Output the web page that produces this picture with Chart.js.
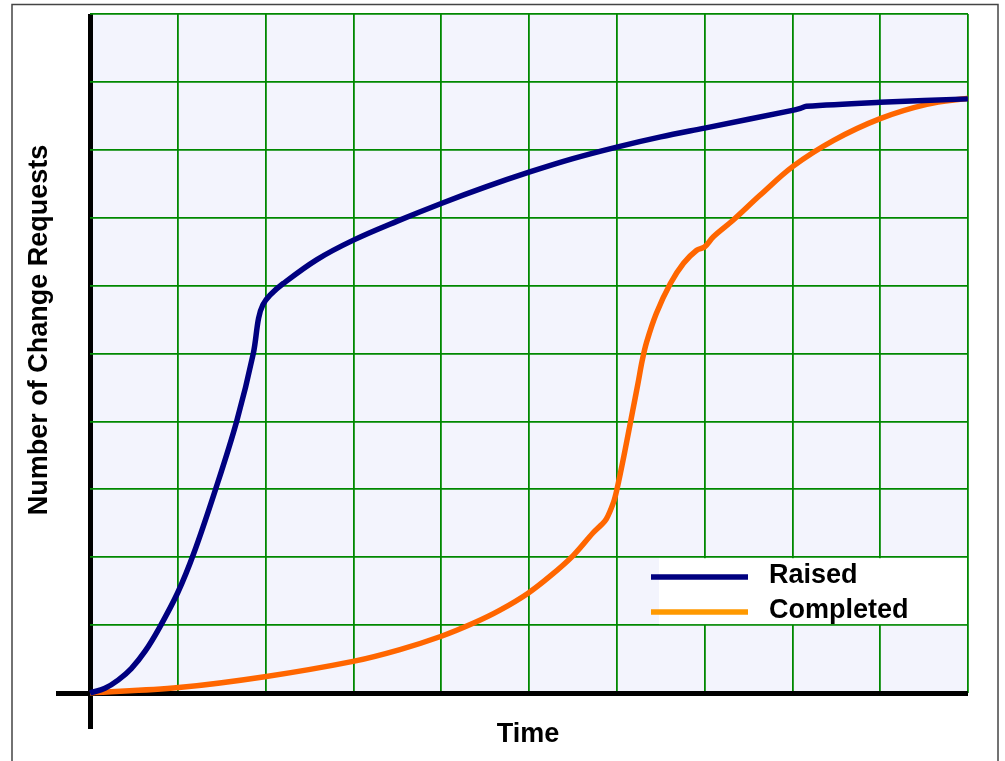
<!DOCTYPE html>
<html>
<head>
<meta charset="utf-8">
<script src="https://cdn.jsdelivr.net/npm/chart.js@4"></script>
<style>
  body { margin: 0; background: #fff; }
  #wrap { width: 1005px; height: 761px; position: relative; }
</style>
</head>
<body>
<div id="wrap"><canvas id="crChart"></canvas></div>
<script>
// time in grid units (0-10), counts in grid units (0-10)
const raisedX = [0, 0.17, 0.32, 0.47, 0.63, 0.79, 1.00, 1.18, 1.43, 1.67, 1.86, 1.92, 1.97, 2.05, 2.20, 2.58, 3.00, 3.50, 4.00, 4.50, 5.00, 5.50, 6.00, 6.50, 7.00, 8.00, 8.09, 8.16, 9.00, 10.0];
const raisedY = [0, 0.07, 0.19, 0.36, 0.62, 0.96, 1.48, 2.05, 3.00, 4.00, 5.00, 5.52, 5.72, 5.86, 6.03, 6.38, 6.67, 6.95, 7.21, 7.45, 7.67, 7.87, 8.04, 8.19, 8.32, 8.58, 8.61, 8.64, 8.70, 8.75];

const completedX = [0, 1.01, 1.99, 3.01, 3.53, 4.01, 4.37, 4.67, 4.99, 5.24, 5.50, 5.73, 5.81, 5.88, 5.96, 6.00, 6.09, 6.18, 6.24, 6.29, 6.34, 6.45, 6.61, 6.76, 6.91, 7.00, 7.10, 7.33, 7.63, 8.01, 8.47, 9.00, 9.53, 10.0];
const completedY = [0, 0.08, 0.24, 0.47, 0.64, 0.84, 1.03, 1.22, 1.47, 1.72, 2.02, 2.36, 2.46, 2.56, 2.80, 2.99, 3.55, 4.15, 4.55, 4.90, 5.17, 5.59, 6.03, 6.33, 6.52, 6.57, 6.72, 6.97, 7.33, 7.76, 8.14, 8.46, 8.67, 8.76];

const seriesNames = ['Raised', 'Completed'];
const lineColors = ['#000080', '#ff6600'];
const legendColors = ['#000080', '#ff9900'];
const xTitle = 'Time';
const yTitle = 'Number of Change Requests';

const toPoints = (xs, ys) => xs.map((x, i) => ({ x: x, y: ys[i] }));

const GRID = '#008800';
const FONT = 'bold 27px "Liberation Sans", Arial, sans-serif';

const decor = {
  id: 'decor',
  beforeDraw: chart => {
    const { ctx, chartArea: a } = chart;
    ctx.save();
    ctx.fillStyle = '#f3f4fd';
    ctx.fillRect(a.left, a.top, a.right - a.left, a.bottom - a.top);
    ctx.strokeStyle = '#444';
    ctx.lineWidth = 1.5;
    ctx.strokeRect(12, 4.5, 986, 800);
    ctx.restore();
  },
  afterDatasetsDraw: chart => {
    const { ctx, chartArea: a, scales } = chart;
    const y = scales.y;
    ctx.save();
    // legend box
    const top = y.getPixelForValue(2) + 1;
    const bottom = y.getPixelForValue(1) - 1;
    ctx.fillStyle = '#fff';
    ctx.fillRect(659, top, a.right - 1 - 659, bottom - top);
    ctx.font = FONT;
    ctx.textBaseline = 'middle';
    ctx.textAlign = 'left';
    const rows = [576, 611];
    seriesNames.forEach((name, i) => {
      ctx.strokeStyle = legendColors[i];
      ctx.lineWidth = 5.5;
      ctx.beginPath();
      ctx.moveTo(651, rows[i] + 1);
      ctx.lineTo(748, rows[i] + 1);
      ctx.stroke();
      ctx.fillStyle = '#000';
      ctx.fillText(name, 769, rows[i]);
    });
    // axis titles
    ctx.textAlign = 'center';
    ctx.fillText(xTitle, 528, 735);
    ctx.translate(40, 330);
    ctx.rotate(-Math.PI / 2);
    ctx.fillText(yTitle, 0, 0);
    ctx.restore();
  }
};

const isZero = c => c.tick && c.tick.value === 0;

const gridOpts = tickLen => ({
  color: c => isZero(c) ? '#000' : GRID,
  lineWidth: c => isZero(c) ? 5 : 1.8,
  tickColor: c => isZero(c) ? '#000' : 'rgba(0,0,0,0)',
  tickWidth: 5,
  tickLength: tickLen,
  drawTicks: true
});

const lineStyle = { borderWidth: 5.5, pointRadius: 0, tension: 0.35, fill: false, clip: false };

new Chart(document.getElementById('crChart'), {
  type: 'line',
  data: {
    datasets: [
      { label: seriesNames[0], data: toPoints(raisedX, raisedY), borderColor: lineColors[0], ...lineStyle },
      { label: seriesNames[1], data: toPoints(completedX, completedY), borderColor: lineColors[1], ...lineStyle }
    ]
  },
  options: {
    responsive: true,
    maintainAspectRatio: false,
    animation: false,
    events: [],
    layout: { padding: { left: 0, top: 14, right: 37, bottom: 0 } },
    plugins: { legend: { display: false }, tooltip: { enabled: false } },
    scales: {
      x: {
        type: 'linear', min: 0, max: 10,
        ticks: { display: false, stepSize: 1 },
        grid: gridOpts(36),
        border: { display: false },
        afterFit: s => { s.height = 68; }
      },
      y: {
        type: 'linear', min: 0, max: 10,
        ticks: { display: false, stepSize: 1 },
        grid: gridOpts(34),
        border: { display: false },
        afterFit: s => { s.width = 90; }
      }
    }
  },
  plugins: [decor]
});
</script>
</body>
</html>
